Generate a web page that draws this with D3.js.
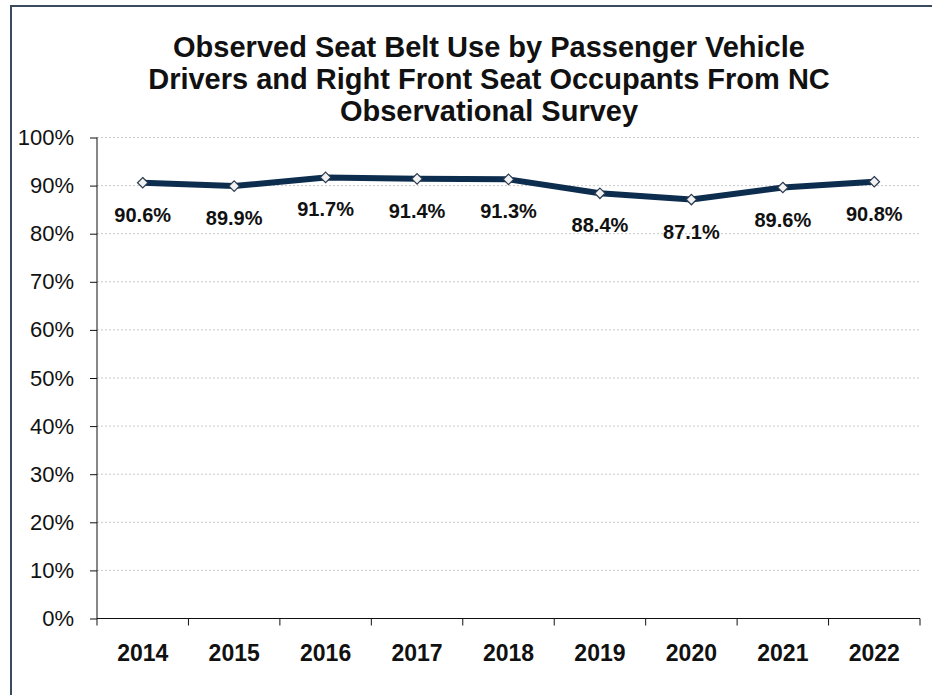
<!DOCTYPE html>
<html>
<head>
<meta charset="utf-8">
<script src="https://cdn.jsdelivr.net/npm/d3@7"></script>
<style>
  body { margin: 0; background: #fff; }
  svg { display: block; font-family: "Liberation Sans", Arial, sans-serif; }
</style>
</head>
<body>
<script>
var years = ["2014", "2015", "2016", "2017", "2018", "2019", "2020", "2021", "2022"];
var beltUse = [0.906, 0.899, 0.917, 0.914, 0.913, 0.884, 0.871, 0.896, 0.908];
var yTicks = [0, 0.1, 0.2, 0.3, 0.4, 0.5, 0.6, 0.7, 0.8, 0.9, 1.0];
var titleLines = [
  "Observed Seat Belt Use by Passenger Vehicle",
  "Drivers and Right Front Seat Occupants From NC",
  "Observational Survey"
];

var W = 932, H = 695;
var plotLeft = 97, plotRight = 920, plotTop = 137.5, plotBottom = 618.5;

var svg = d3.select("body").append("svg")
    .attr("width", W)
    .attr("height", H);

// outer frame
svg.append("rect")
    .attr("x", 11).attr("y", 6)
    .attr("width", 940).attr("height", 720)
    .attr("fill", "#fff")
    .attr("stroke", "#3b4a5e")
    .attr("stroke-width", 2);

var x = d3.scaleBand().domain(years).range([plotLeft, plotRight]).padding(0);
var y = d3.scaleLinear().domain([0, 1]).range([plotBottom, plotTop]);

// title
svg.append("text")
    .attr("text-anchor", "middle")
    .style("font-size", "29px")
    .style("font-weight", "bold")
    .attr("fill", "#111")
  .selectAll("tspan")
    .data(titleLines)
  .enter().append("tspan")
    .attr("x", 489)
    .attr("y", function(d, i) { return 57 + i * 32; })
    .text(function(d) { return d; });

// gridlines
svg.append("g")
  .selectAll("line")
    .data(yTicks.slice(1))
  .enter().append("line")
    .attr("x1", plotLeft).attr("x2", plotRight)
    .attr("y1", function(d) { return y(d); })
    .attr("y2", function(d) { return y(d); })
    .attr("stroke", "#c8c8c8")
    .attr("stroke-dasharray", "2,2");

// y axis
var yAxis = d3.axisLeft(y)
    .tickValues(yTicks)
    .tickFormat(d3.format(".0%"))
    .tickSize(7)
    .tickPadding(16);

var gy = svg.append("g")
    .attr("transform", "translate(" + plotLeft + ",0)")
    .call(yAxis);
gy.select(".domain").attr("stroke", "#111").attr("d", "M0," + plotTop + "V" + plotBottom);
gy.selectAll(".tick line").attr("stroke", "#111");
gy.selectAll("text")
    .style("font-size", "22px")
    .style("font-family", "Liberation Sans, Arial, sans-serif")
    .attr("fill", "#111");

// x axis
var xAxis = d3.axisBottom(x).tickSize(0).tickPadding(26);
var gx = svg.append("g")
    .attr("transform", "translate(0," + plotBottom + ")")
    .call(xAxis);
gx.select(".domain").attr("stroke", "#111").attr("d", "M" + plotLeft + ",0H" + plotRight);
gx.selectAll("text")
    .style("font-size", "23px")
    .style("font-weight", "bold")
    .style("font-family", "Liberation Sans, Arial, sans-serif")
    .attr("fill", "#111");

// tick marks between categories
var bounds = years.map(function(d) { return x(d); }).concat([plotRight]);
gx.selectAll(".bound")
    .data(bounds)
  .enter().append("line")
    .attr("class", "bound")
    .attr("x1", function(d) { return d; })
    .attr("x2", function(d) { return d; })
    .attr("y1", 0).attr("y2", 7)
    .attr("stroke", "#111");

var cx = function(d, i) { return x(years[i]) + x.bandwidth() / 2; };

// line
var line = d3.line()
    .x(function(d, i) { return cx(d, i); })
    .y(function(d) { return y(d); });

svg.append("path")
    .datum(beltUse)
    .attr("d", line)
    .attr("fill", "none")
    .attr("stroke", "#0c2d4e")
    .attr("stroke-width", 6)
    .attr("stroke-linejoin", "round");

// diamond markers
var sym = d3.symbol().type(d3.symbolDiamond2).size(70);
svg.append("g")
  .selectAll("path")
    .data(beltUse)
  .enter().append("path")
    .attr("d", sym)
    .attr("transform", function(d, i) { return "translate(" + cx(d, i) + "," + y(d) + ")"; })
    .attr("fill", "#f2f2f2")
    .attr("stroke", "#2b3a50")
    .attr("stroke-width", 1.2);

// data labels
svg.append("g")
  .selectAll("text")
    .data(beltUse)
  .enter().append("text")
    .attr("x", function(d, i) { return cx(d, i); })
    .attr("y", function(d) { return y(d) + 39; })
    .attr("text-anchor", "middle")
    .style("font-size", "20px")
    .style("font-weight", "bold")
    .attr("fill", "#111")
    .text(function(d) { return d3.format(".1%")(d); });
</script>
</body>
</html>
